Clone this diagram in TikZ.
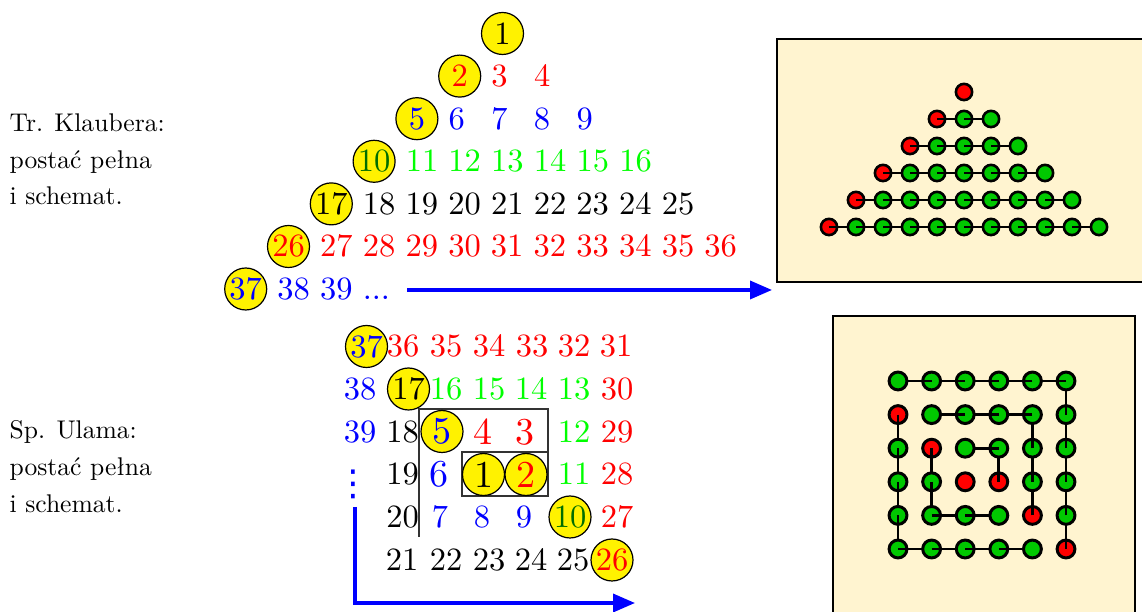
\documentclass[tikz,border=0pt]{standalone}
\usepackage{graphicx}
\usepackage{fontspec}
\newfontfamily\symbolfont{DejaVu Sans}
\usetikzlibrary{arrows.meta}

% one drawing unit = one pixel = 0.3077pt
\definecolor{cream}{RGB}{255,244,208}
\definecolor{dotgreen}{RGB}{0,200,0}
\definecolor{darkgreen}{RGB}{0,110,0}
\definecolor{brightgreen}{RGB}{0,255,0}
\newcommand\bigdig[1]{\scalebox{1.17}{#1}}
\newcommand\smallerlabel[1]{\scalebox{0.787}{#1}}

\tikzset{
  num/.style={inner sep=0, anchor=base, font=\fontsize{10}{12}\selectfont},
  ball/.style={circle, draw=black, line width=0.37pt, fill=yellow, inner sep=0,
               minimum size=12.92pt, font=\fontsize{10}{12}\selectfont},
  labeltxt/.style={inner sep=0, anchor=base west, font=\fontsize{10}{12}\selectfont},
  panel/.style={draw=black, line width=0.49pt, fill=cream, inner sep=0, anchor=north west},
  tdot/.style={circle, draw=black, line width=0.8pt, inner sep=0, minimum size=5pt},
  sdot/.style={circle, draw=black, line width=0.92pt, inner sep=0, minimum size=5.5pt},
  tlink/.style={line width=0.68pt},
  slink/.style={line width=0.85pt},
  flowarrow/.style={draw=blue, line width=1.08pt, -{Triangle[length=6.77pt, width=5.54pt]}},
  gridframe/.style={line width=0.37pt, draw=black!80},
}

\begin{document}
\begin{tikzpicture}[x=0.3077pt, y=-0.3077pt]
\useasboundingbox (0,0) rectangle (1142,612);
\fill[white] (0,0) rectangle (1142,612);
\clip (0,0) rectangle (1142,612);

% ---------- side captions ----------
\node[labeltxt] (kl-l1) at (9,132)   {\smallerlabel{Tr. Klaubera:}};
\node[labeltxt] (kl-l2) at (9,168.5) {\smallerlabel{postać pełna}};
\node[labeltxt] (kl-l3) at (9,205)   {\smallerlabel{i schemat.}};
\node[labeltxt] (ul-l1) at (9,439)   {\smallerlabel{Sp. Ulama:}};
\node[labeltxt] (ul-l2) at (9,476)   {\smallerlabel{postać pełna}};
\node[labeltxt] (ul-l3) at (9,513)   {\smallerlabel{i schemat.}};

% ---------- Klauber triangle ----------
\foreach \n/\cc/\nc in {0/black/black,1/red/red,2/blue/blue,3/darkgreen/brightgreen,4/black/black,5/red/red}{
  \pgfmathtruncatemacro\first{\n*\n+1}
  \pgfmathsetmacro\cx{502.5-42.8*\n}
  \pgfmathsetmacro\cy{33.5+42.6*\n}
  \node[ball, text=\cc] (tri-\first) at (\cx,\cy) {\first};
  \ifnum\n>0
    \pgfmathtruncatemacro\cnt{2*\n}
    \foreach \j in {1,...,\cnt}{
      \pgfmathtruncatemacro\v{\first+\j}
      \node[num, anchor=base west, text=\nc] (tri-\v) at ({\cx+31+42.7*(\j-1)},{\cy+10.5}) {\v};
    }
  \fi
}
\node[ball, text=blue] (tri-37) at (245.7,289) {37};
\node[num, anchor=base west, text=blue] (tri-38) at (276.7,299.5) {38};
\node[num, anchor=base west, text=blue] (tri-39) at (319.4,299.5) {39};
\node[num, anchor=base west, text=blue] (tri-dots) at (362.1,299.5) {...};

% ---------- Ulam spiral ----------
\draw[gridframe] (419,537) -- (419,409) -- (548,409) -- (548,496);
\draw[gridframe] (462,452) rectangle (548,496);

\foreach \t/\x/\y/\c in {
  36/403/346/red, 35/446/346/red, 34/489/346/red, 33/532/346/red, 32/574/346/red, 31/616/346/red,
  38/360/389/blue, 16/446/389/brightgreen, 15/489/389/brightgreen, 14/531/389/brightgreen,
  13/574/389/brightgreen, 30/617/389/red,
  39/360/432/blue, 18/402.5/432/black, 12/574/432/brightgreen, 29/617/432/red,
  19/402.5/474.5/black, 11/574/474.5/brightgreen, 28/617/474.5/red,
  20/402.5/517/black, 7/440/517/blue, 8/482/517/blue, 9/524/517/blue, 27/617/517/red,
  21/402/560/black, 22/446/560/black, 23/489/560/black, 24/531/560/black, 25/573/560/black}
  \node[num, text=\c] (sp-\t) at (\x,{\y+10.5}) {\t};

\node[num, text=red]  (sp-4) at (483,444.3)   {\bigdig{4}};
\node[num, text=red]  (sp-3) at (525,444.3)   {\bigdig{3}};
\node[num, text=blue] (sp-6) at (438.5,486.8) {\bigdig{6}};

\node[ball, text=blue]      (sp-37) at (366.5,346.5) {37};
\node[ball, text=black]     (sp-17) at (408.5,389)   {17};
\node[ball, text=blue]      (sp-5)  at (442,431.5)   {\bigdig{5}};
\node[ball, text=black]     (sp-1)  at (483.5,474.5) {\bigdig{1}};
\node[ball, text=red]       (sp-2)  at (526,474.5)   {\bigdig{2}};
\node[ball, text=darkgreen] (sp-10) at (570,517)     {10};
\node[ball, text=red]       (sp-26) at (612,560)     {26};

\node[inner sep=0, anchor=base, text=blue, font=\fontsize{11}{11}\symbolfont]
  (sp-vdots) at (353,495.5) {⋮};

% ---------- schematic panels ----------
\node[panel, minimum width=116.9pt, minimum height=74.77pt] (klpanel) at (776,38) {};
\node[panel, minimum width=92.93pt, minimum height=98.46pt] (ulpanel) at (832,315) {};

% arrows from the number layouts
\coordinate (kl-start) at (407,290);
\draw[flowarrow, shorten >=1.23pt] (kl-start) -- (kl-start -| klpanel.west);
\coordinate (sp-start) at (355,507);
\coordinate (sp-end) at (635,603);
\draw[flowarrow] (sp-start) |- (sp-end);

% triangle schematic: each row is a chain, first ball red
\foreach \n in {0,...,5}{
  \pgfmathtruncatemacro\last{2*\n}
  \foreach \i in {0,...,\last}{
    \coordinate (kp-\n-\i) at ({964-27*\n+27*\i},{92+27*\n});
  }
}
\foreach \n in {0,...,5}{
  \pgfmathtruncatemacro\last{2*\n}
  \foreach \i in {0,...,\last}{
    \ifnum\i=0 \def\dc{red}\else\def\dc{dotgreen}\fi
    \node[tdot, fill=\dc] (kd-\n-\i) at (kp-\n-\i) {};
    \ifnum\i<\last
      \pgfmathtruncatemacro\nx{\i+1}
      \draw[tlink] (kd-\n-\i.center) -- (kp-\n-\nx);
    \fi
  }
}

% spiral schematic: positions of 1..36 on the 6x6 grid
\foreach \k/\r/\c in {1/3/2, 2/3/3, 3/2/3, 4/2/2, 5/2/1, 6/3/1, 7/4/1, 8/4/2, 9/4/3,
  10/4/4, 11/3/4, 12/2/4, 13/1/4, 14/1/3, 15/1/2, 16/1/1, 17/1/0, 18/2/0, 19/3/0,
  20/4/0, 21/5/0, 22/5/1, 23/5/2, 24/5/3, 25/5/4, 26/5/5, 27/4/5, 28/3/5, 29/2/5,
  30/1/5, 31/0/5, 32/0/4, 33/0/3, 34/0/2, 35/0/1, 36/0/0}
  \coordinate (up-\k) at ({898+33.6*\c},{381+33.6*\r});

\foreach \k/\dc/\lk in {1/red/0, 2/red/1, 3/dotgreen/1, 4/dotgreen/0,
  5/red/1, 6/dotgreen/1, 7/dotgreen/1, 8/dotgreen/1, 9/dotgreen/0,
  10/red/1, 11/dotgreen/1, 12/dotgreen/1, 13/dotgreen/1, 14/dotgreen/1, 15/dotgreen/1, 16/dotgreen/0,
  17/red/1, 18/dotgreen/1, 19/dotgreen/1, 20/dotgreen/1, 21/dotgreen/1, 22/dotgreen/1,
  23/dotgreen/1, 24/dotgreen/1, 25/dotgreen/0,
  26/red/1, 27/dotgreen/1, 28/dotgreen/1, 29/dotgreen/1, 30/dotgreen/1, 31/dotgreen/1,
  32/dotgreen/1, 33/dotgreen/1, 34/dotgreen/1, 35/dotgreen/1, 36/dotgreen/0}{
  \node[sdot, fill=\dc] (ud-\k) at (up-\k) {};
  \ifnum\lk=1
    \pgfmathtruncatemacro\nx{\k+1}
    \draw[slink] (ud-\k.center) -- (up-\nx);
  \fi
}
\end{tikzpicture}
\end{document}
